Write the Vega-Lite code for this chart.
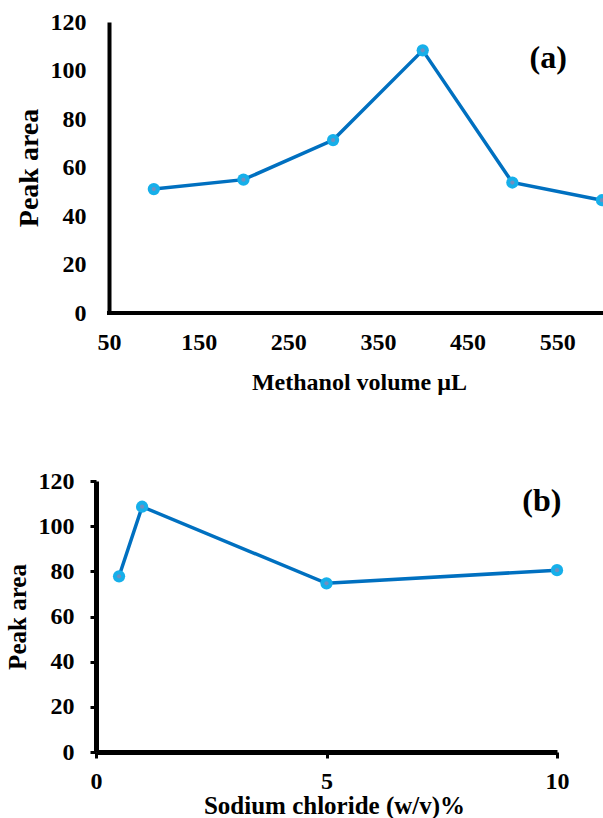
{
  "$schema": "https://vega.github.io/schema/vega-lite/v6.json",
  "background": "white",
  "padding": {"left": 5, "top": 10, "right": 0, "bottom": 0},
  "spacing": 75,
  "config": {
    "view": {"stroke": null},
    "font": "Liberation Serif",
    "text": {"font": "Liberation Serif"},
    "style": {
      "guide-label": {"font": "Liberation Serif", "fontWeight": "bold", "fill": "black"},
      "guide-title": {"font": "Liberation Serif", "fontWeight": "bold", "fill": "black"}
    },
    "axis": {
      "labelFont": "Liberation Serif",
      "titleFont": "Liberation Serif",
      "labelFontWeight": "bold",
      "titleFontWeight": "bold",
      "labelColor": "black",
      "titleColor": "black",
      "domainColor": "black",
      "tickColor": "black",
      "grid": false
    }
  },
  "vconcat": [
    {
      "width": 506,
      "height": 291,
      "layer": [
        {
          "data": {"values": [{"series": "baseline"}]},
          "mark": {"type": "rule", "color": "black", "strokeWidth": 4, "strokeCap": "square"},
          "encoding": {
            "x": {"datum": 50, "type": "quantitative", "scale": {"domain": [35.5, 600], "nice": false, "zero": false}},
            "x2": {"datum": 600},
            "y": {"datum": 0, "type": "quantitative", "scale": {"domain": [0, 120], "nice": false}}
          }
        },
        {
          "data": {"values": [
            {"volume": 100, "area": 51.1},
            {"volume": 200, "area": 55.0},
            {"volume": 300, "area": 71.3},
            {"volume": 400, "area": 108.3},
            {"volume": 500, "area": 53.8},
            {"volume": 600, "area": 46.5}
          ]},
          "encoding": {
            "x": {
              "field": "volume", "type": "quantitative",
              "axis": {
                "values": [50, 150, 250, 350, 450, 550],
                "domain": false, "ticks": false,
                "labelFont": "Liberation Serif", "labelFontWeight": "bold", "labelColor": "black",
                "labelFontSize": 24, "labelPadding": 17, "labelFlush": false,
                "title": "Methanol volume µL", "titleFont": "Liberation Serif", "titleFontWeight": "bold", "titleColor": "black",
                "titleFontSize": 24, "titleX": 263, "titleY": 76, "titleBaseline": "alphabetic"
              }
            },
            "y": {
              "field": "area", "type": "quantitative",
              "axis": {
                "values": [0, 20, 40, 60, 80, 100, 120],
                "offset": -13, "ticks": false, "domainWidth": 4,
                "labelFont": "Liberation Serif", "labelFontWeight": "bold", "labelColor": "black",
                "labelFontSize": 24, "labelPadding": 23,
                "title": "Peak area", "titleFont": "Liberation Serif", "titleFontWeight": "bold", "titleColor": "black",
                "titleFontSize": 28, "titlePadding": 7
              }
            }
          },
          "layer": [
            {"mark": {"type": "line", "color": "#0070C0", "strokeWidth": 3.5}},
            {"mark": {"type": "point", "filled": true, "size": 150, "color": "#16AFEA", "opacity": 1}},
            {"mark": {"type": "point", "filled": true, "size": 18, "color": "#6F8FC0", "opacity": 1}}
          ]
        },
        {
          "data": {"values": [{"label": "(a)"}]},
          "mark": {"type": "text", "fontSize": 32, "fontWeight": "bold", "color": "black", "font": "Liberation Serif"},
          "encoding": {
            "x": {"datum": 540, "type": "quantitative"},
            "y": {"datum": 105, "type": "quantitative"},
            "text": {"field": "label", "type": "nominal"}
          }
        }
      ]
    },
    {
      "width": 461,
      "height": 271,
      "layer": [
        {
          "data": {"values": [
            {"nacl": 0.5, "area": 77.8},
            {"nacl": 1, "area": 108.6},
            {"nacl": 5, "area": 74.7},
            {"nacl": 10, "area": 80.5}
          ]},
          "encoding": {
            "x": {
              "field": "nacl", "type": "quantitative",
              "scale": {"domain": [0, 10], "nice": false},
              "axis": {
                "values": [0, 5, 10],
                "domainWidth": 5, "tickSize": 6, "tickWidth": 3,
                "labelFont": "Liberation Serif", "labelFontWeight": "bold", "labelColor": "black",
                "labelFontSize": 24, "labelPadding": 11, "labelFlush": false,
                "title": "Sodium chloride (w/v)%", "titleFont": "Liberation Serif", "titleFontWeight": "bold", "titleColor": "black",
                "titleFontSize": 25, "titleX": 238, "titleY": 61, "titleBaseline": "alphabetic"
              }
            },
            "y": {
              "field": "area", "type": "quantitative",
              "scale": {"domain": [0, 120], "nice": false},
              "axis": {
                "values": [0, 20, 40, 60, 80, 100, 120],
                "domainWidth": 5, "tickSize": 6, "tickWidth": 3,
                "labelFont": "Liberation Serif", "labelFontWeight": "bold", "labelColor": "black",
                "labelFontSize": 24, "labelPadding": 16,
                "title": "Peak area", "titleFont": "Liberation Serif", "titleFontWeight": "bold", "titleColor": "black",
                "titleFontSize": 25, "titlePadding": 8
              }
            }
          },
          "layer": [
            {"mark": {"type": "line", "color": "#0070C0", "strokeWidth": 3.5}},
            {"mark": {"type": "point", "filled": true, "size": 150, "color": "#16AFEA", "opacity": 1}},
            {"mark": {"type": "point", "filled": true, "size": 18, "color": "#6F8FC0", "opacity": 1}}
          ]
        },
        {
          "data": {"values": [{"label": "(b)"}]},
          "mark": {"type": "text", "fontSize": 32, "fontWeight": "bold", "color": "black", "font": "Liberation Serif"},
          "encoding": {
            "x": {"datum": 9.67, "type": "quantitative"},
            "y": {"datum": 111, "type": "quantitative"},
            "text": {"field": "label", "type": "nominal"}
          }
        }
      ]
    }
  ]
}
